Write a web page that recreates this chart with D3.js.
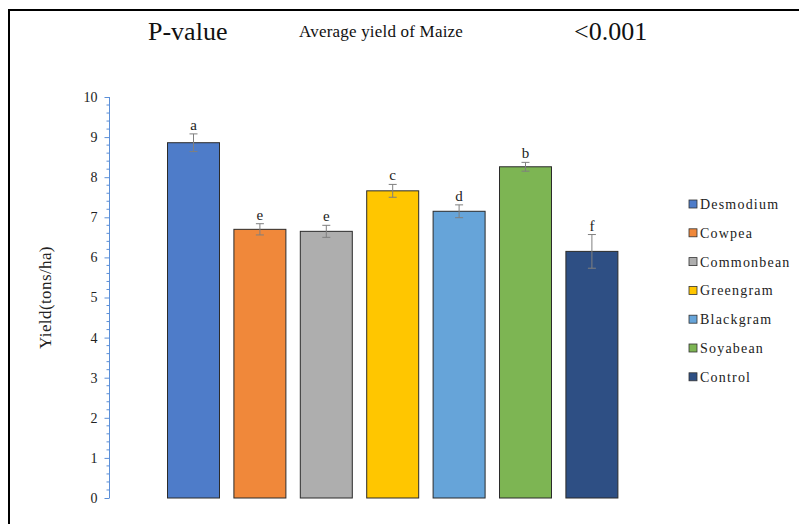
<!DOCTYPE html>
<html>
<head>
<meta charset="utf-8">
<script src="https://cdn.jsdelivr.net/npm/d3@7"></script>
<style>
  html, body { margin: 0; padding: 0; background: #fff; }
</style>
</head>
<body>
<div id="chart"></div>
<script>
// data
const crops = ["Desmodium", "Cowpea", "Commonbean", "Greengram", "Blackgram", "Soyabean", "Control"];
const yieldMean = [8.86, 6.70, 6.65, 7.66, 7.15, 8.26, 6.15];
const yieldErr = [0.22, 0.14, 0.15, 0.16, 0.16, 0.11, 0.42];
const groupLetters = ["a", "e", "e", "c", "d", "b", "f"];
const colors = ["#4e7cc9", "#f0883a", "#aeaeae", "#ffc600", "#66a4d9", "#7db553", "#2e4f84"];
const yTicks = [0, 1, 2, 3, 4, 5, 6, 7, 8, 9, 10];

const width = 799, height = 524;
const SERIF = "\"Liberation Serif\", \"Times New Roman\", serif";

const svg = d3.select("#chart").append("svg")
  .attr("width", width)
  .attr("height", height);

// frame (only left and top edges show in the picture)
svg.append("line").attr("x1", 9).attr("x2", 9).attr("y1", 10).attr("y2", height)
  .attr("stroke", "#000").attr("stroke-width", 2);
svg.append("line").attr("x1", 8).attr("x2", width).attr("y1", 10).attr("y2", 10)
  .attr("stroke", "#000").attr("stroke-width", 2);

// ===== Header =====
function label(sel, x, y, size, txt) {
  return sel.append("text").attr("x", x).attr("y", y)
    .style("font-family", SERIF).style("font-size", size + "px")
    .attr("fill", "#111").text(txt);
}
label(svg, 148, 40, 26, "P-value");
label(svg, 299, 37, 17, "Average yield of Maize").style("letter-spacing", "0.2px");
label(svg, 574, 40, 26, "<0.001");

// ===== Scales =====
const x = d3.scaleBand()
  .domain(crops)
  .range([160.3, 625.1])
  .paddingInner(0.217)
  .paddingOuter(0.1085);

const y = d3.scaleLinear().domain([0, 10]).range([498, 97]);

// y axis: blue line, major + minor ticks
const axisX = 109.5;
const yAxisG = svg.append("g").attr("transform", `translate(${axisX},0)`);
yAxisG.call(d3.axisLeft(y).tickValues(yTicks).tickSize(5).tickPadding(7).tickFormat(d3.format("d")))
  .call(g => g.select(".domain").attr("stroke", "#5b8fd8").attr("d", `M0,${y(10)}V${y(0)}`))
  .call(g => g.selectAll(".tick line").attr("stroke", "#5b8fd8"))
  .call(g => g.selectAll(".tick text")
    .style("font-family", SERIF).style("font-size", "14px").attr("fill", "#222"));

const minor = d3.range(0, 10.0001, 0.2).filter(v => Math.abs(v - Math.round(v)) > 1e-6);
yAxisG.selectAll(".minor").data(minor).join("line")
  .attr("class", "minor")
  .attr("x1", -3).attr("x2", 0)
  .attr("y1", d => y(d)).attr("y2", d => y(d))
  .attr("stroke", "#5b8fd8");

label(svg, 0, 0, 17, "Yield(tons/ha)")
  .attr("transform", `translate(51,${(y(0) + y(10)) / 2}) rotate(-90)`)
  .attr("text-anchor", "middle")
  .style("letter-spacing", "0.4px")
  .attr("fill", "#222");

// ===== Bars =====
const rows = crops.map((c, i) => ({ crop: c, mean: yieldMean[i], err: yieldErr[i], letter: groupLetters[i], color: colors[i] }));

svg.append("g").selectAll("rect").data(rows).join("rect")
  .attr("x", d => x(d.crop))
  .attr("y", d => y(d.mean))
  .attr("width", x.bandwidth())
  .attr("height", d => y(0) - y(d.mean))
  .attr("fill", d => d.color)
  .attr("stroke", "#2b2b2b")
  .attr("stroke-width", 1);

// error bars
const eb = svg.append("g").attr("stroke", "#7f7f7f").attr("stroke-width", 1);
rows.forEach(d => {
  const cx = x(d.crop) + x.bandwidth() / 2;
  eb.append("line").attr("x1", cx).attr("x2", cx).attr("y1", y(d.mean + d.err)).attr("y2", y(d.mean - d.err));
  [d.mean + d.err, d.mean - d.err].forEach(v => {
    eb.append("line").attr("x1", cx - 4).attr("x2", cx + 4).attr("y1", y(v)).attr("y2", y(v));
  });
});

// significance letters
svg.append("g").selectAll("text").data(rows).join("text")
  .attr("x", d => x(d.crop) + x.bandwidth() / 2)
  .attr("y", d => y(d.mean + d.err) - 4)
  .attr("text-anchor", "middle")
  .style("font-family", SERIF).style("font-size", "15px")
  .attr("fill", "#222")
  .text(d => d.letter);

// ===== Legend =====
const legend = svg.append("g").attr("transform", "translate(689,204)");
rows.forEach((d, i) => {
  const grp = legend.append("g").attr("transform", `translate(0,${i * 28.8})`);
  grp.append("rect").attr("x", 0).attr("y", -4).attr("width", 8).attr("height", 8)
    .attr("fill", d.color).attr("stroke", "#333").attr("stroke-width", 0.8);
  label(grp, 11, 5, 14, d.crop).attr("fill", "#222").style("letter-spacing", "1.2px");
});
</script>
</body>
</html>
